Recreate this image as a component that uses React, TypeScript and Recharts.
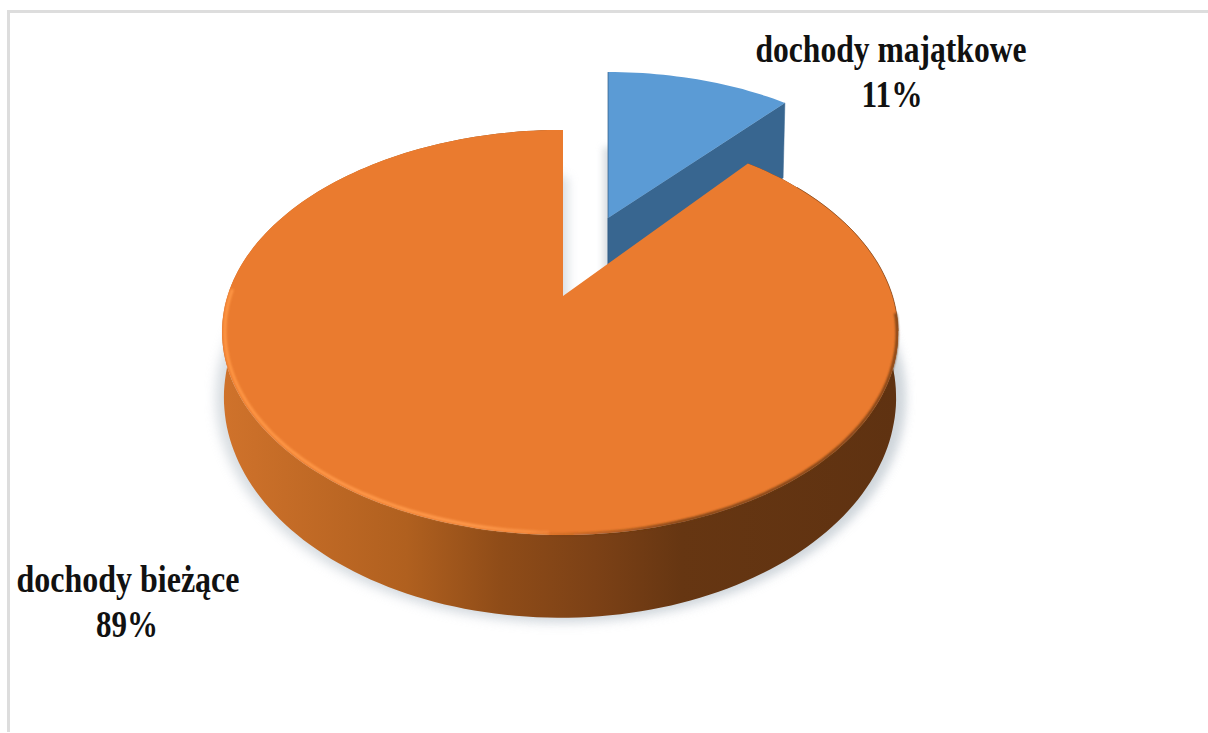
import React from "react";
import { PieChart, Pie } from "recharts";

// Budget income structure, drawn as a tilted 3D pie with one slice pulled out.
const categories = ["dochody majątkowe", "dochody bieżące"];
const shares = [11, 89];
const sliceFills = ["#5B9BD5", "#EA7B2F"];

const chartData = categories.map((name, i) => ({ name, value: shares[i], fill: sliceFills[i] }));

// Perspective settings of each slice's top and bottom faces, relative to the pie centre.
type Face = { dx: number; dy: number; a: number; b: number; k: number; warp: number };
const topFaces: Face[] = [
  { dx: 45, dy: -78, a: 162, b: 301, k: 0.11, warp: 0 },
  { dx: -3, dy: 0, a: 196, b: 332.5, k: 0.18, warp: 3 },
];
const bottomFaces: Face[] = [
  { dx: 45, dy: -3, a: 162, b: 298, k: 0.11, warp: 0 },
  { dx: -3, dy: 62, a: 213, b: 330.6, k: 0.18, warp: 0 },
];

const labelPlacement = [
  { x: 891, y1: 62, y2: 107, x2: 892, w1: 271, w2: 61 },
  { x: 128, y1: 592, y2: 637, x2: 127, w1: 223, w2: 62 },
];

const wallStops: [number, string][] = [
  [0, "#cf722b"],
  [0.27, "#b0601f"],
  [0.41, "#8f4c18"],
  [0.55, "#7c4116"],
  [0.68, "#663612"],
  [1, "#5f3211"],
];

const rad = (d: number) => (d * Math.PI) / 180;

// theta is measured clockwise from twelve o'clock; r scales towards the apex.
function project(f: Face, cx: number, cy: number, theta: number, r = 1): [number, number] {
  const u = r * Math.sin(rad(theta));
  const v = -r * Math.cos(rad(theta));
  const den = 1 - f.k * v;
  return [cx + f.dx + (f.b * u) / den + f.warp * (1 - u * u), cy + f.dy + (f.a * v) / den];
}

function arcPoints(f: Face, cx: number, cy: number, from: number, to: number, r = 1) {
  const pts: [number, number][] = [];
  const steps = Math.max(8, Math.ceil(Math.abs(to - from) / 1.5));
  for (let i = 0; i <= steps; i++) pts.push(project(f, cx, cy, from + ((to - from) * i) / steps, r));
  return pts;
}

const toPath = (pts: [number, number][], close = true) =>
  pts.map((p, i) => `${i ? "L" : "M"}${p[0].toFixed(1)} ${p[1].toFixed(1)}`).join(" ") + (close ? " Z" : "");

function SliceShape(props: any) {
  const { cx, cy, startAngle, endAngle, fill } = props;
  const index = chartData.findIndex((d) => d.name === (props.name ?? props.payload?.name));
  const from = 90 - startAngle;
  const to = 90 - endAngle;
  const top = topFaces[index];
  const bottom = bottomFaces[index];
  const apex = project(top, cx, cy, 0, 0);
  const bottomApex = project(bottom, cx, cy, 0, 0);
  const topArc = arcPoints(top, cx, cy, from, to);
  const bottomArc = arcPoints(bottom, cx, cy, from, to);
  const topPath = toPath([apex, ...topArc]);
  const bottomPath = toPath([bottomApex, ...bottomArc]);
  const region = { filterUnits: "userSpaceOnUse" as const, x: 0, y: 0, width: 1208, height: 733 };

  if (index === 0) {
    const endTop = topArc[topArc.length - 1];
    const endBottom = bottomArc[bottomArc.length - 1];
    return (
      <g>
        <defs>
          <filter id="blueHalo" {...region}>
            <feGaussianBlur stdDeviation={3.5} />
          </filter>
        </defs>
        <path d={bottomPath} fill="#c9d0d6" opacity={0.7} transform="translate(-5,0)" filter="url(#blueHalo)" />
        <path d={toPath([apex, endTop, endBottom, bottomApex])} fill="#386690" stroke="#386690" strokeWidth={0.5} />
        <path d={topPath} fill={fill} />
        <path d={toPath([topArc[0], apex, bottomApex], false)} fill="none" stroke="#2f5a82" strokeWidth={1} opacity={0.7} />
      </g>
    );
  }

  const wall = toPath([...topArc, ...[...bottomArc].reverse()]);
  return (
    <g>
      <defs>
        <filter id="groundShadow" {...region}>
          <feGaussianBlur stdDeviation={5} />
        </filter>
        <filter id="softEdge" {...region}>
          <feGaussianBlur stdDeviation={1} />
        </filter>
        <linearGradient id="wallShade" gradientUnits="userSpaceOnUse" x1={225} y1={0} x2={897} y2={0}>
          {wallStops.map(([o, c]) => (
            <stop key={o} offset={o} stopColor={c} />
          ))}
        </linearGradient>
        <linearGradient id="rimLight" gradientUnits="userSpaceOnUse" x1={225} y1={0} x2={640} y2={0}>
          <stop offset={0} stopColor="#ff9745" />
          <stop offset={0.6} stopColor="#ff9a4c" />
          <stop offset={1} stopColor="#ff9a4c" stopOpacity={0} />
        </linearGradient>
        <linearGradient id="rimDark" gradientUnits="userSpaceOnUse" x1={530} y1={0} x2={680} y2={0}>
          <stop offset={0} stopColor="#6f3a13" stopOpacity={0} />
          <stop offset={1} stopColor="#6f3a13" />
        </linearGradient>
      </defs>
      <path
        d={bottomPath}
        fill="#c4ccd3"
        opacity={0.65}
        transform="translate(558,408) scale(1.025) translate(-558,-408)"
        filter="url(#groundShadow)"
      />
      <path d={bottomPath} fill="#c4ccd3" opacity={0.5} transform="translate(9,0)" filter="url(#groundShadow)" />
      <path d={wall} fill="url(#wallShade)" />
      <path d={topPath} fill={fill} />
      <path
        d={toPath(arcPoints(top, cx, cy, 272, 182, 0.992), false)}
        fill="none"
        stroke="url(#rimLight)"
        strokeWidth={3}
        filter="url(#softEdge)"
      />
      <path
        d={toPath(arcPoints(top, cx, cy, 95, 195, 0.997), false)}
        fill="none"
        stroke="url(#rimDark)"
        strokeWidth={2.5}
        filter="url(#softEdge)"
      />
      <path d={toPath(arcPoints(top, cx, cy, 52, 100), false)} fill="none" stroke="#8a4c1e" strokeWidth={1} opacity={0.7} />
    </g>
  );
}

function SliceLabel(props: any) {
  const { index, name, value } = props;
  const place = labelPlacement[index];
  const text = {
    textAnchor: "middle" as const,
    fontFamily: "'Liberation Serif', serif",
    fontWeight: 700,
    fill: "#111111",
    lengthAdjust: "spacingAndGlyphs" as const,
  };
  return (
    <g>
      <text {...text} x={place.x} y={place.y1} fontSize={38} textLength={place.w1}>
        {name}
      </text>
      <text {...text} x={place.x2} y={place.y2} fontSize={38} textLength={place.w2}>
        {`${value}%`}
      </text>
    </g>
  );
}

export default function App() {
  return (
    <div style={{ position: "absolute", left: 0, top: 0, width: 1208, height: 733, overflow: "hidden", background: "#ffffff" }}>
      <div
        style={{
          position: "absolute",
          left: 7,
          top: 10,
          width: 1300,
          height: 722,
          boxSizing: "border-box",
          borderTop: "3px solid #dddddd",
          borderLeft: "3px solid #dddddd",
        }}
      />
      <div style={{ position: "absolute", left: 0, top: 0 }}>
        <PieChart width={1208} height={733} margin={{ top: 0, right: 0, bottom: 0, left: 0 }}>
          <Pie
            data={chartData}
            dataKey="value"
            nameKey="name"
            cx={563}
            cy={296}
            outerRadius={200}
            startAngle={90}
            endAngle={-270}
            paddingAngle={0}
            stroke="none"
            shape={SliceShape}
            label={SliceLabel}
            labelLine={false}
            isAnimationActive={false}
          />
        </PieChart>
      </div>
    </div>
  );
}
